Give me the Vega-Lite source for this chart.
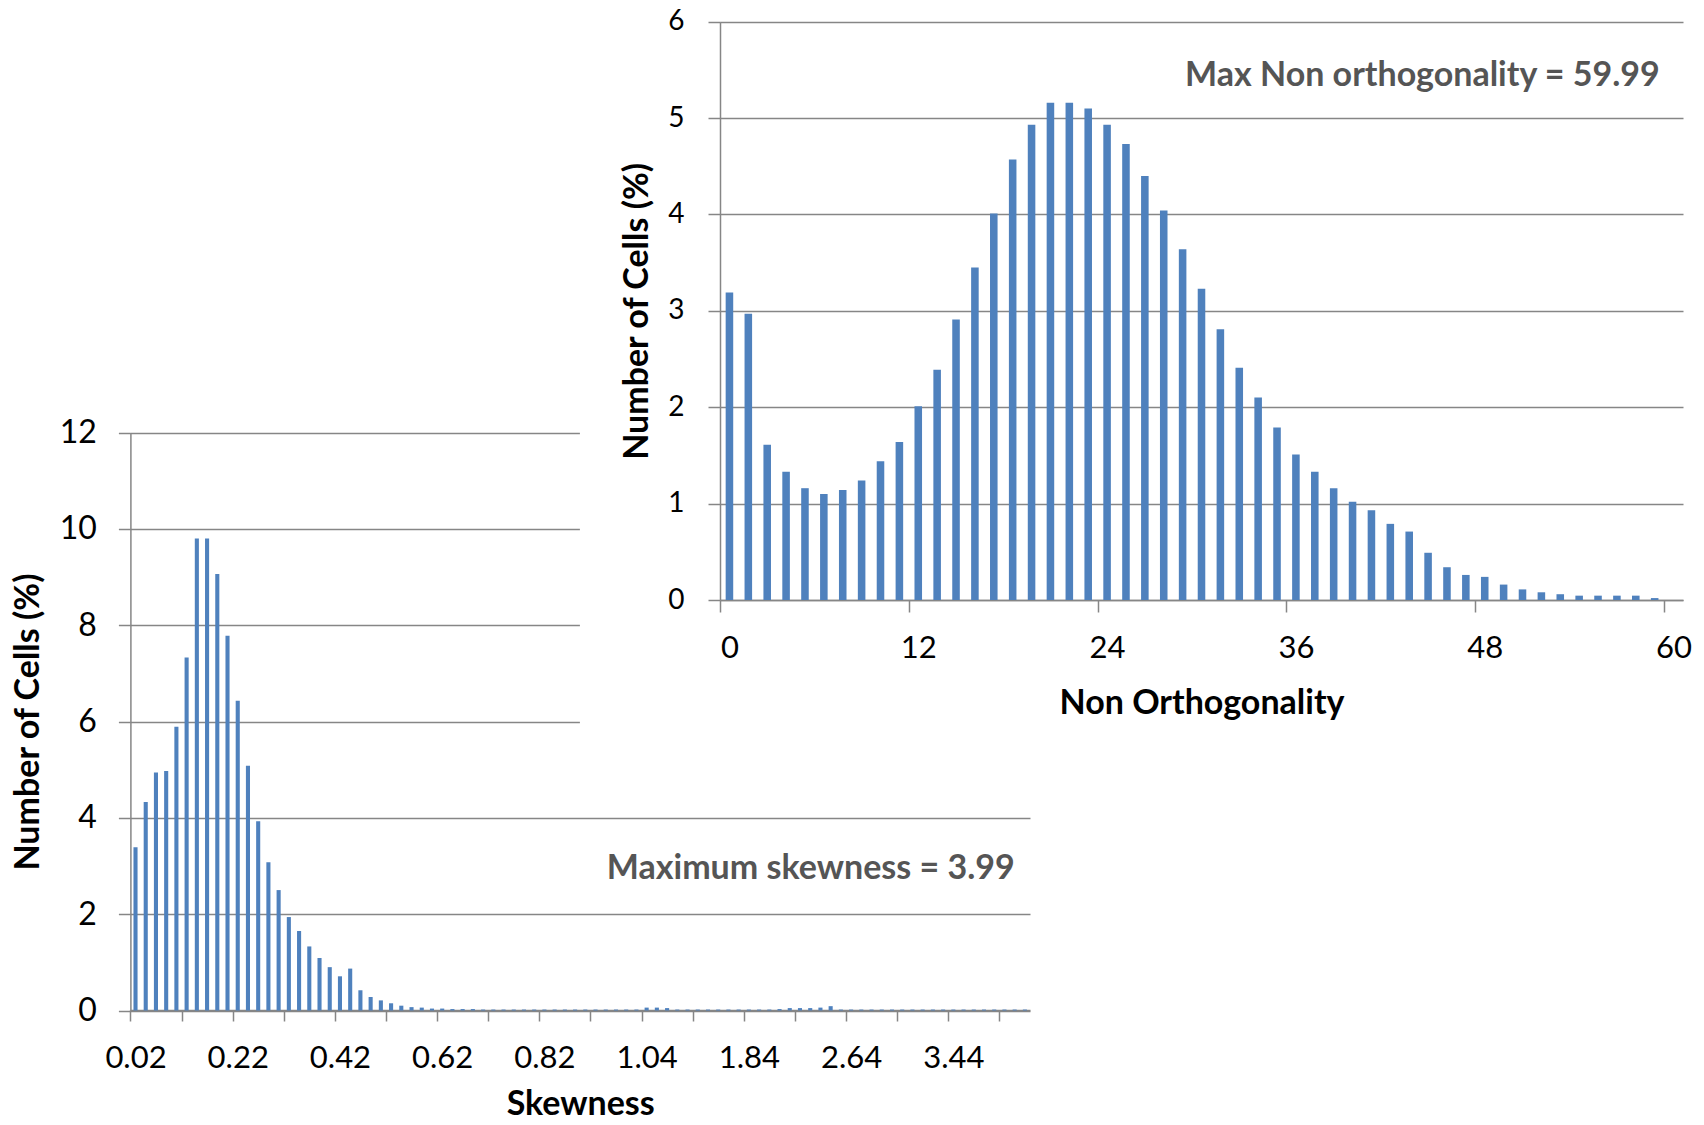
{
  "$schema": "https://vega.github.io/schema/vega-lite/v6.json",
  "width": 1704,
  "height": 1125,
  "autosize": {"type": "none"},
  "padding": 0,
  "background": "white",
  "config": {
    "view": {"stroke": null},
    "font": "Lato",
    "axis": {
      "domainColor": "#868686", "tickColor": "#868686", "gridColor": "#868686",
      "domainWidth": 1.5, "tickWidth": 1.5, "gridWidth": 1.5,
      "labelColor": "#000000", "titleColor": "#000000",
      "labelFont": "Lato", "titleFont": "Lato", "titleFontWeight": "bold",
      "tickSize": 12, "labelOverlap": false
    }
  },
  "datasets": {
    "skew": [
      {"skewness": 0.02, "cells": 3.39}, {"skewness": 0.04, "cells": 4.33}, {"skewness": 0.06, "cells": 4.94}, {"skewness": 0.08, "cells": 4.97},
      {"skewness": 0.10, "cells": 5.89}, {"skewness": 0.12, "cells": 7.33}, {"skewness": 0.14, "cells": 9.80}, {"skewness": 0.16, "cells": 9.80},
      {"skewness": 0.18, "cells": 9.06}, {"skewness": 0.20, "cells": 7.78}, {"skewness": 0.22, "cells": 6.43}, {"skewness": 0.24, "cells": 5.08},
      {"skewness": 0.26, "cells": 3.93}, {"skewness": 0.28, "cells": 3.08}, {"skewness": 0.30, "cells": 2.50}, {"skewness": 0.32, "cells": 1.94},
      {"skewness": 0.34, "cells": 1.65}, {"skewness": 0.36, "cells": 1.33}, {"skewness": 0.38, "cells": 1.09}, {"skewness": 0.40, "cells": 0.90},
      {"skewness": 0.42, "cells": 0.71}, {"skewness": 0.44, "cells": 0.87}, {"skewness": 0.46, "cells": 0.42}, {"skewness": 0.48, "cells": 0.28},
      {"skewness": 0.50, "cells": 0.21}, {"skewness": 0.52, "cells": 0.15}, {"skewness": 0.54, "cells": 0.10}, {"skewness": 0.56, "cells": 0.07},
      {"skewness": 0.58, "cells": 0.06}, {"skewness": 0.60, "cells": 0.04}, {"skewness": 0.62, "cells": 0.04}, {"skewness": 0.64, "cells": 0.03},
      {"skewness": 0.66, "cells": 0.03}, {"skewness": 0.68, "cells": 0.03}, {"skewness": 0.70, "cells": 0.02}, {"skewness": 0.72, "cells": 0.02},
      {"skewness": 0.74, "cells": 0.02}, {"skewness": 0.76, "cells": 0.02}, {"skewness": 0.78, "cells": 0.02}, {"skewness": 0.80, "cells": 0.02},
      {"skewness": 0.82, "cells": 0.02}, {"skewness": 0.84, "cells": 0.02}, {"skewness": 0.86, "cells": 0.02}, {"skewness": 0.88, "cells": 0.02},
      {"skewness": 0.90, "cells": 0.02}, {"skewness": 0.92, "cells": 0.02}, {"skewness": 0.94, "cells": 0.02}, {"skewness": 0.96, "cells": 0.02},
      {"skewness": 0.98, "cells": 0.02}, {"skewness": 1.00, "cells": 0.02}, {"skewness": 1.04, "cells": 0.06}, {"skewness": 1.12, "cells": 0.06},
      {"skewness": 1.20, "cells": 0.05}, {"skewness": 1.28, "cells": 0.02}, {"skewness": 1.36, "cells": 0.02}, {"skewness": 1.44, "cells": 0.02},
      {"skewness": 1.52, "cells": 0.02}, {"skewness": 1.60, "cells": 0.02}, {"skewness": 1.68, "cells": 0.02}, {"skewness": 1.76, "cells": 0.02},
      {"skewness": 1.84, "cells": 0.02}, {"skewness": 1.92, "cells": 0.02}, {"skewness": 2.00, "cells": 0.02}, {"skewness": 2.08, "cells": 0.03},
      {"skewness": 2.16, "cells": 0.05}, {"skewness": 2.24, "cells": 0.05}, {"skewness": 2.32, "cells": 0.05}, {"skewness": 2.40, "cells": 0.06},
      {"skewness": 2.48, "cells": 0.09}, {"skewness": 2.56, "cells": 0.02}, {"skewness": 2.64, "cells": 0.02}, {"skewness": 2.72, "cells": 0.02},
      {"skewness": 2.80, "cells": 0.02}, {"skewness": 2.88, "cells": 0.02}, {"skewness": 2.96, "cells": 0.02}, {"skewness": 3.04, "cells": 0.02},
      {"skewness": 3.12, "cells": 0.02}, {"skewness": 3.20, "cells": 0.02}, {"skewness": 3.28, "cells": 0.02}, {"skewness": 3.36, "cells": 0.02},
      {"skewness": 3.44, "cells": 0.02}, {"skewness": 3.52, "cells": 0.02}, {"skewness": 3.60, "cells": 0.02}, {"skewness": 3.68, "cells": 0.02},
      {"skewness": 3.76, "cells": 0.02}, {"skewness": 3.84, "cells": 0.02}, {"skewness": 3.92, "cells": 0.02}, {"skewness": 4.00, "cells": 0.02}
    ],
    "nonorth": [
      {"angle": 0, "cells": 3.19}, {"angle": 1.2, "cells": 2.97}, {"angle": 2.4, "cells": 1.61}, {"angle": 3.6, "cells": 1.33},
      {"angle": 4.8, "cells": 1.16}, {"angle": 6, "cells": 1.10}, {"angle": 7.2, "cells": 1.14}, {"angle": 8.4, "cells": 1.24},
      {"angle": 9.6, "cells": 1.44}, {"angle": 10.8, "cells": 1.64}, {"angle": 12, "cells": 2.01}, {"angle": 13.2, "cells": 2.39},
      {"angle": 14.4, "cells": 2.91}, {"angle": 15.6, "cells": 3.45}, {"angle": 16.8, "cells": 4.01}, {"angle": 18, "cells": 4.57},
      {"angle": 19.2, "cells": 4.93}, {"angle": 20.4, "cells": 5.16}, {"angle": 21.6, "cells": 5.16}, {"angle": 22.8, "cells": 5.10},
      {"angle": 24, "cells": 4.93}, {"angle": 25.2, "cells": 4.73}, {"angle": 26.4, "cells": 4.40}, {"angle": 27.6, "cells": 4.04},
      {"angle": 28.8, "cells": 3.64}, {"angle": 30, "cells": 3.23}, {"angle": 31.2, "cells": 2.81}, {"angle": 32.4, "cells": 2.41},
      {"angle": 33.6, "cells": 2.10}, {"angle": 34.8, "cells": 1.79}, {"angle": 36, "cells": 1.51}, {"angle": 37.2, "cells": 1.33},
      {"angle": 38.4, "cells": 1.16}, {"angle": 39.6, "cells": 1.02}, {"angle": 40.8, "cells": 0.93}, {"angle": 42, "cells": 0.79},
      {"angle": 43.2, "cells": 0.71}, {"angle": 44.4, "cells": 0.49}, {"angle": 45.6, "cells": 0.34}, {"angle": 46.8, "cells": 0.26},
      {"angle": 48, "cells": 0.24}, {"angle": 49.2, "cells": 0.16}, {"angle": 50.4, "cells": 0.11}, {"angle": 51.6, "cells": 0.08},
      {"angle": 52.8, "cells": 0.06}, {"angle": 54, "cells": 0.045}, {"angle": 55.2, "cells": 0.045}, {"angle": 56.4, "cells": 0.045},
      {"angle": 57.6, "cells": 0.045}, {"angle": 58.8, "cells": 0.02}, {"angle": 60, "cells": 0}
    ]
  },
  "layer": [
    {
      "layer": [
        {
          "data": {"name": "skew"},
          "mark": {"type": "bar", "color": "#4F81BD"},
          "encoding": {
            "x": {
              "field": "skewness", "type": "ordinal",
              "scale": {"range": [130.4, 1030], "paddingInner": 0.6, "paddingOuter": 0.3},
              "axis": {
                "orient": "bottom", "offset": -115,
                "values": [0.02, 0.12, 0.22, 0.32, 0.42, 0.52, 0.62, 0.72, 0.82, 0.92, 1.04, 1.44, 1.84, 2.24, 2.64, 3.04, 3.44, 3.84],
                "labelExpr": "indexof([0.02, 0.22, 0.42, 0.62, 0.82, 1.04, 1.84, 2.64, 3.44], datum.value) >= 0 ? datum.label : ''",
                "tickOffset": -5.11, "labelOffset": 5.11, "tickSize": 11,
                "labelAngle": 0, "labelFontSize": 31, "labelPadding": 22,
                "title": "Skewness", "titleFontSize": 34, "titlePadding": 14,
                "grid": false
              }
            },
            "y": {
              "field": "cells", "type": "quantitative",
              "scale": {"domain": [0, 12], "range": [1010.5, 432.5], "nice": false},
              "axis": {
                "orient": "left", "offset": -130.4,
                "values": [0, 2, 4, 6, 8, 10, 12], "format": "d",
                "grid": true,
                "gridDash": {"condition": {"test": "datum.value >= 6", "value": [449, 3000]}, "value": []},
                "labelFontSize": 32, "labelPadding": 22,
                "title": "Number of Cells (%)", "titleFontSize": 34, "titlePadding": 14
              }
            }
          }
        },
        {
          "data": {"values": [{"note": "Maximum skewness = 3.99"}]},
          "mark": {"type": "text", "align": "right", "baseline": "middle", "fontSize": 34, "fontWeight": "bold", "color": "#555555", "font": "Lato"},
          "encoding": {
            "x": {"datum": 3.92, "type": "ordinal"},
            "y": {"datum": 2.93, "type": "quantitative"},
            "text": {"field": "note"}
          }
        }
      ]
    },
    {
      "layer": [
        {
          "data": {"name": "nonorth"},
          "mark": {"type": "bar", "color": "#4F81BD"},
          "encoding": {
            "x": {
              "field": "angle", "type": "ordinal",
              "scale": {"range": [720, 1683], "paddingInner": 0.6, "paddingOuter": 0.3},
              "axis": {
                "orient": "bottom", "offset": -525,
                "values": [0, 12, 24, 36, 48, 60],
                "tickOffset": -9.44, "labelOffset": 9.44, "tickSize": 12,
                "labelAngle": 0, "labelFontSize": 31, "labelPadding": 21,
                "title": "Non Orthogonality", "titleFontSize": 34, "titlePadding": 23,
                "grid": false
              }
            },
            "y": {
              "field": "cells", "type": "quantitative",
              "scale": {"domain": [0, 6], "range": [600, 21.7], "nice": false},
              "axis": {
                "orient": "left", "offset": -720,
                "values": [0, 1, 2, 3, 4, 5, 6], "format": "d",
                "grid": true,
                "labelFontSize": 28, "labelPadding": 24,
                "title": "Number of Cells (%)", "titleFontSize": 34, "titlePadding": 13
              }
            }
          }
        },
        {
          "data": {"values": [{"note": "Max Non orthogonality = 59.99"}]},
          "mark": {"type": "text", "align": "right", "baseline": "middle", "dx": 5, "fontSize": 34, "fontWeight": "bold", "color": "#555555", "font": "Lato"},
          "encoding": {
            "x": {"datum": 58.8, "type": "ordinal"},
            "y": {"datum": 5.44, "type": "quantitative"},
            "text": {"field": "note"}
          }
        }
      ]
    }
  ],
  "resolve": {
    "scale": {"x": "independent", "y": "independent"},
    "axis": {"x": "independent", "y": "independent"}
  }
}
